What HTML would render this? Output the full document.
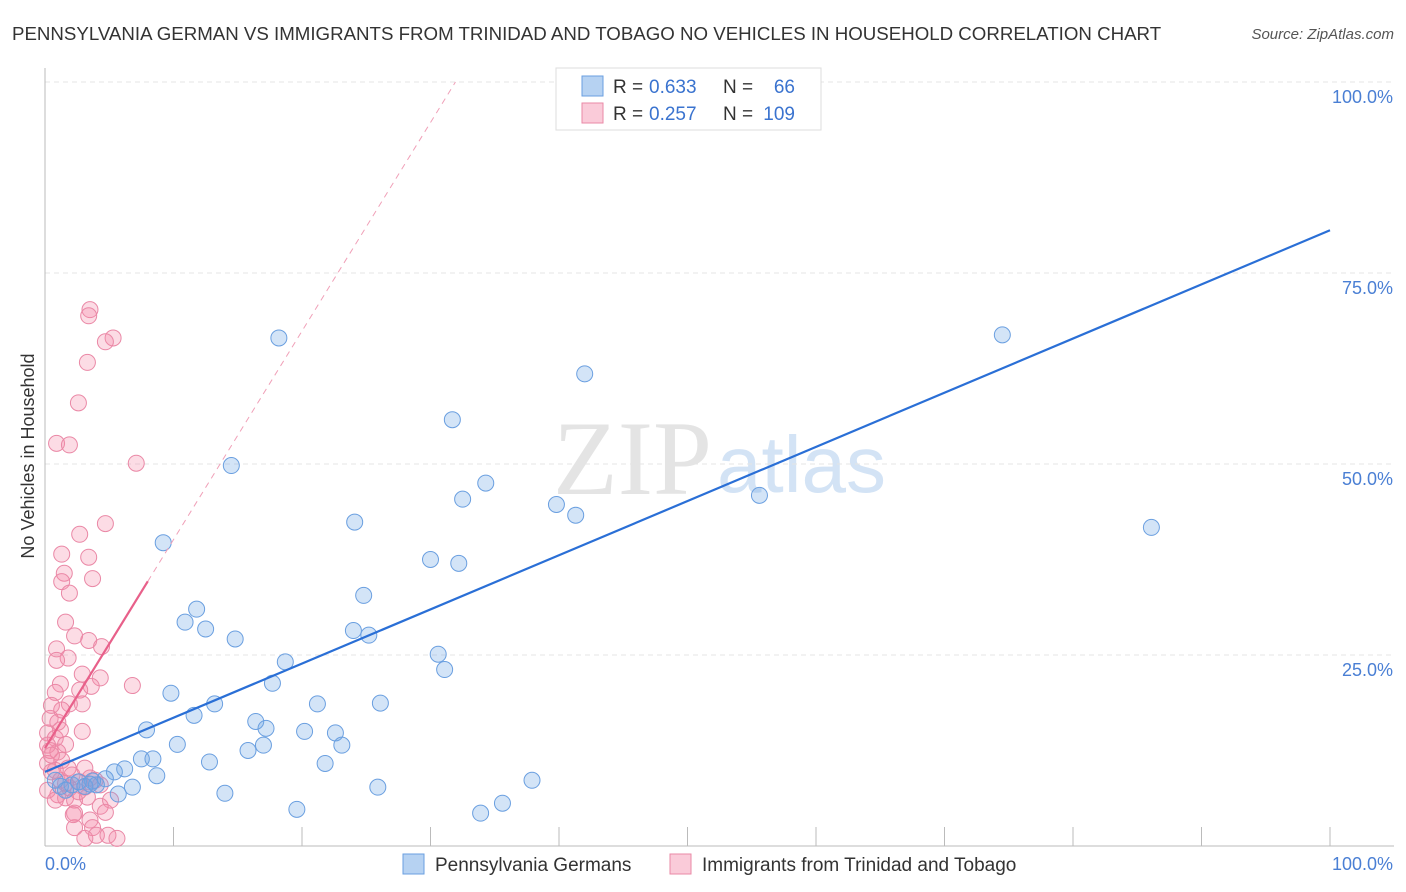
<!DOCTYPE html>
<html><head><meta charset="utf-8"><style>
body{margin:0;background:#fff;font-family:"Liberation Sans",sans-serif;}
svg{display:block}
</style></head><body>
<svg id="c" width="1406" height="892"></svg>
<script>
const blueX=[18.2,42.0,74.5,31.7,14.5,34.3,32.5,39.8,41.3,55.6,86.1,24.1,9.2,30.0,32.2,24.8,11.8,10.9,12.5,14.8,24.0,25.2,30.6,31.1,18.7,17.7,9.8,13.2,26.1,21.2,11.6,16.4,17.2,7.9,20.2,22.6,23.1,10.3,15.8,17.0,7.5,8.4,12.8,6.2,5.4,8.7,4.7,3.7,21.8,37.9,25.9,14.0,6.8,5.7,19.6,35.6,33.9,53.9,1.2,2.1,3.1,4.0,0.8,1.6,2.6,3.5];
const blueY=[66.5,61.8,66.9,55.8,49.8,47.5,45.4,44.7,43.3,45.9,41.7,42.4,39.7,37.5,37.0,32.8,31.0,29.3,28.4,27.1,28.2,27.6,25.1,23.1,24.1,21.3,20.0,18.6,18.7,18.6,17.1,16.3,15.4,15.2,15.0,14.8,13.2,13.3,12.5,13.2,11.4,11.4,11.0,10.1,9.7,9.2,8.8,8.5,10.8,8.6,7.7,6.9,7.7,6.8,4.8,5.6,4.3,100.0,7.8,8.0,7.8,8.0,8.6,7.3,8.4,8.1];
const pinkX=[3.5,3.4,5.3,4.7,3.3,2.6,0.9,1.9,7.1,4.7,2.7,1.3,3.4,1.5,3.7,1.3,1.9,1.6,2.3,3.4,0.9,4.4,1.8,0.9,2.9,6.8,4.3,1.2,0.8,3.6,2.7,1.9,2.9,0.4,1.0,1.3,2.9,0.2,0.8,1.6,0.4,1.0,1.3,0.2,0.5,1.2,1.8,2.1,2.7,3.1,3.5,3.9,4.3,1.0,1.6,1.9,2.3,3.3,4.3,2.3,3.5,3.7,2.3,4.0,4.9,5.6,3.1,0.8,0.2,0.5,0.2,2.6,1.6,5.1,0.8,4.7,2.2,1.2,0.5,3.1];
const pinkY=[70.2,69.4,66.5,66.0,63.3,58.0,52.7,52.5,50.1,42.2,40.8,38.2,37.8,35.7,35.0,34.6,33.1,29.3,27.5,26.9,25.8,26.1,24.6,24.3,22.5,21.0,22.0,21.2,20.1,20.9,20.4,18.6,18.6,16.7,16.2,17.8,15.0,14.8,14.1,13.3,12.5,12.3,11.2,10.8,9.7,8.6,10.2,9.3,8.4,7.7,8.9,8.6,8.0,6.7,6.3,7.6,6.0,6.4,5.2,4.3,3.4,2.4,2.4,1.4,1.4,1.0,1.0,9.9,13.2,18.4,7.3,7.1,8.2,6.0,6.0,4.4,4.1,15.2,11.9,10.2];
const blueTrend=[9.7,80.6];
const pinkTrend=[12.8,2.73];
const yTicks=[25,50,75,100];

const NS="http://www.w3.org/2000/svg",svg=document.getElementById('c');
const X0=45,X1=1330,Y0=846,Y100=82;
const sx=v=>X0+(X1-X0)*v/100, sy=v=>Y0-(Y0-Y100)*v/100;
function el(t,a,txt){const e=document.createElementNS(NS,t);for(const k in a)e.setAttribute(k,a[k]);if(txt!=null)e.textContent=txt;svg.appendChild(e);return e;}

let e;
e=el('text',{x:12,y:40,'font-size':18.7,fill:'#333'},'PENNSYLVANIA GERMAN VS IMMIGRANTS FROM TRINIDAD AND TOBAGO NO VEHICLES IN HOUSEHOLD CORRELATION CHART');


e=el('text',{x:1394,y:39,'font-size':15,fill:'#555','font-style':'italic','text-anchor':'end'},'Source: ZipAtlas.com');



e=el('text',{x:553,y:494,'font-size':106,fill:'#e4e4e4','font-family':'Liberation Serif, serif'},'ZIP');


e=el('text',{x:717,y:492,'font-size':80,fill:'#d3e3f5'},'atlas');



for(const t of yTicks){
  e=el('line',{x1:X0,x2:1394,y1:sy(t),y2:sy(t),stroke:'#e4e4e4','stroke-dasharray':'5,4'});
  
  
  e=el('text',{x:1393,y:sy(t)+21,'font-size':18,fill:'#4a7fd4','text-anchor':'end'},t.toFixed(1)+'%');
  
  
}
e=el('line',{x1:X0,x2:X0,y1:68,y2:Y0,stroke:'#bbb'});


e=el('line',{x1:X0,x2:1394,y1:Y0,y2:Y0,stroke:'#bbb'});


for(let i=1;i<=10;i++){
  e=el('line',{x1:sx(i*10),x2:sx(i*10),y1:827,y2:Y0,stroke:'#bbb'});
  
  
}
e=el('text',{x:45,y:870,'font-size':18,fill:'#4a7fd4'},'0.0%');


e=el('text',{x:1393,y:870,'font-size':18,fill:'#4a7fd4','text-anchor':'end'},'100.0%');


e=el('text',{x:34,y:456,'font-size':18,fill:'#333','text-anchor':'middle',transform:'rotate(-90 34 456)'},'No Vehicles in Household');



for(let i=0;i<pinkX.length;i++){
  e=el('circle',{cx:sx(pinkX[i]),cy:sy(pinkY[i]),r:8,fill:'rgba(244,140,170,0.3)',stroke:'#ea88a6','stroke-width':1});
  
  
}
for(let i=0;i<blueX.length;i++){
  e=el('circle',{cx:sx(blueX[i]),cy:sy(blueY[i]),r:8,fill:'rgba(110,165,230,0.3)',stroke:'#6a9fe0','stroke-width':1});
  
  
}
e=el('line',{x1:sx(0),y1:sy(blueTrend[0]),x2:sx(100),y2:sy(blueTrend[1]),stroke:'#2a6fd6','stroke-width':2.2});


const pxEnd=(100-pinkTrend[0])/pinkTrend[1];
e=el('line',{x1:sx(8),y1:sy(pinkTrend[0]+8*pinkTrend[1]),x2:sx(pxEnd),y2:sy(100),stroke:'#f0a0b8','stroke-width':1,'stroke-dasharray':'6,5'});


e=el('line',{x1:sx(0),y1:sy(pinkTrend[0]),x2:sx(8),y2:sy(pinkTrend[0]+8*pinkTrend[1]),stroke:'#e8608a','stroke-width':2.2});



e=el('rect',{x:556,y:68,width:265,height:62,fill:'#fff',stroke:'#ddd'});


const rows=[['rgba(110,165,230,0.5)','#6a9fe0','0.633','66',86],['rgba(244,140,170,0.45)','#ea88a6','0.257','109',113]];
for(const r of rows){
  e=el('rect',{x:582,y:r[4]-10,width:21,height:20,fill:r[0],stroke:r[1]});
  
  
  e=el('text',{x:613,y:r[4]+7,'font-size':19,fill:'#333'},'R = ');
  
  
  e=el('text',{x:649,y:r[4]+7,'font-size':19,fill:'#3a73cf'},r[2]);
  
  
  e=el('text',{x:723,y:r[4]+7,'font-size':19,fill:'#333'},'N = ');
  
  
  e=el('text',{x:795,y:r[4]+7,'font-size':19,fill:'#3a73cf','text-anchor':'end'},r[3]);
  
  
}
const leg=[[403,'rgba(110,165,230,0.5)','#6a9fe0','Pennsylvania Germans'],[670,'rgba(244,140,170,0.45)','#ea88a6','Immigrants from Trinidad and Tobago']];
for(const l of leg){
  e=el('rect',{x:l[0],y:854,width:21,height:20,fill:l[1],stroke:l[2]});
  
  
  e=el('text',{x:l[0]+32,y:871,'font-size':19,fill:'#333'},l[3]);
  
  
}
</script>
</body></html>
